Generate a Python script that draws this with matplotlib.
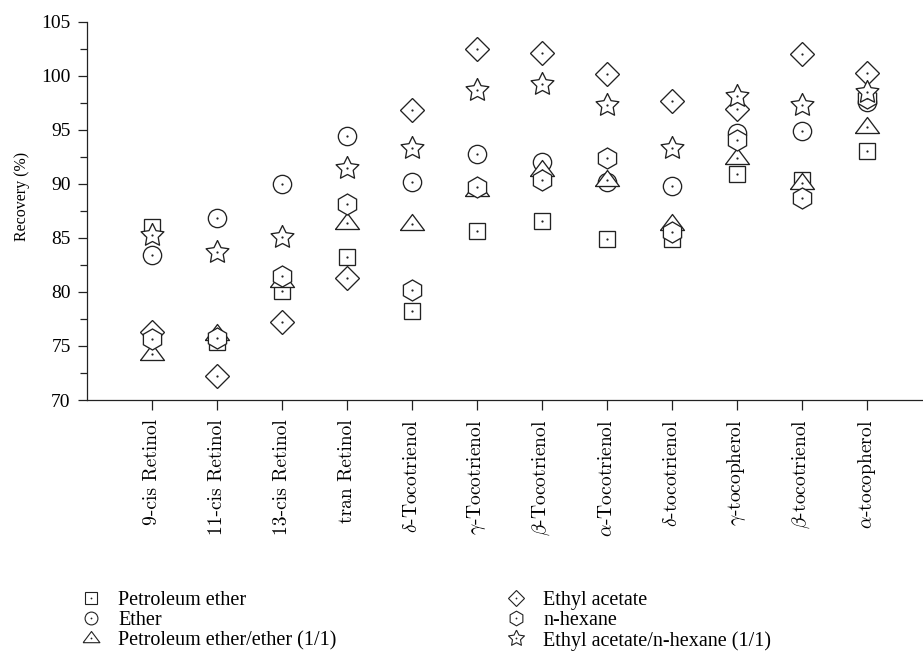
import matplotlib
matplotlib.use("Agg")
import matplotlib.pyplot as plt
from matplotlib.lines import Line2D
from matplotlib.ticker import MultipleLocator
import numpy as np

plt.rcParams['font.family'] = ['Liberation Serif', 'DejaVu Serif']
plt.rcParams['mathtext.fontset'] = 'cm'

categories = ['9-cis Retinol', '11-cis Retinol', '13-cis Retinol', 'tran Retinol',
              r'$\delta$-Tocotrienol', r'$\gamma$-Tocotrienol', r'$\beta$-Tocotrienol',
              r'$\alpha$-Tocotrienol', r'$\delta$-tocotrienol', r'$\gamma$-tocopherol',
              r'$\beta$-tocotrienol', r'$\alpha$-tocopherol']

petroleum_ether = [86.0, 75.4, 80.1, 83.2, 78.2, 85.6, 86.6, 84.9, 84.9, 90.9, 90.4, 93.0]
ether = [83.4, 86.8, 90.0, 94.4, 90.2, 92.8, 92.0, 90.2, 89.8, 94.7, 94.9, 97.6]
pe_ether = [74.3, 76.1, 81.0, 86.4, 86.3, 89.4, 91.3, 90.35, 86.3, 92.4, 90.05, 95.3]
ethyl_acetate = [76.3, 72.2, 77.2, 81.3, 96.8, 102.5, 102.1, 100.2, 97.7, 96.9, 102.0, 100.3]
n_hexane = [75.6, 75.7, 81.5, 88.1, 80.2, 89.7, 90.4, 92.4, 85.5, 94.1, 88.7, 97.9]
ea_hexane = [85.3, 83.7, 85.1, 91.5, 93.3, 98.7, 99.2, 97.3, 93.3, 98.1, 97.3, 98.5]

series_names = ['Petroleum ether', 'Ether', 'Petroleum ether/ether (1/1)',
                'Ethyl acetate', 'n-hexane', 'Ethyl acetate/n-hexane (1/1)']

# squat triangle with its origin where the centre dot sits
tri = [(-12, -6), (12, -6), (0, 10), (-12, -6)]
# five-point star, fatter than the built-in one
ang = np.pi / 2 + np.arange(10) * np.pi / 5
rad = np.where(np.arange(10) % 2 == 0, 1.0, 0.5)
star = list(zip(rad * np.cos(ang), rad * np.sin(ang)))
star.append(star[0])

pt = 0.72  # points per pixel at 100 dpi
styles = [('s', 16 * pt), ('o', 18.3 * pt), (tri, 24 * pt),
          ('D', 17 * pt), ('h', 21 * pt), (star, 24 * pt)]
data = [petroleum_ether, ether, pe_ether, ethyl_acetate, n_hexane, ea_hexane]

ink = '#222222'
fig = plt.figure(figsize=(9.23, 6.62), dpi=100)
ax = fig.add_axes([86.7 / 923, 1 - 400 / 662, 1 - 86.7 / 923, 378.3 / 662])

x = np.arange(1, len(categories) + 1)
handles = []
for i, (vals, (mk, ms)) in enumerate(zip(data, styles)):
    ax.plot(x, vals, ls='none', marker=mk, ms=ms, mfc='white', mec=ink,
            mew=0.95, zorder=3 + 2 * i, clip_on=False)
    ax.plot(x, vals, ls='none', marker='o', ms=1.6, mfc=ink, mec='none',
            zorder=4 + 2 * i, clip_on=False)
    h = Line2D([], [], ls='none', marker=mk, ms=ms * 0.7, mfc='white', mec=ink, mew=0.8)
    d = Line2D([], [], ls='none', marker='o', ms=1.3, mfc=ink, mec='none')
    handles.append((h, d))

ax.set_xlim(0, (923 - 86.7) / 65.0)
ax.set_ylim(70, 105)
ax.set_xticks(x)
ax.set_xticklabels(categories, rotation=90, fontsize=14, va='top')
for lab in ax.get_xticklabels():
    lab.set_fontfamily(['cmr10', 'Liberation Serif'])
ax.yaxis.set_major_locator(MultipleLocator(5))
ax.yaxis.set_minor_locator(MultipleLocator(2.5))
ax.tick_params(axis='y', which='major', direction='out', length=6.5, width=0.9,
               labelsize=14, pad=5, colors=ink, labelcolor='black')
ax.tick_params(axis='y', which='minor', direction='out', length=5, width=0.9, colors=ink)
ax.tick_params(axis='x', direction='out', length=7, width=0.9, pad=7, colors=ink,
               labelcolor='black')
for side in ['top', 'right']:
    ax.spines[side].set_visible(False)
for side in ['left', 'bottom']:
    ax.spines[side].set_color(ink)
    ax.spines[side].set_linewidth(0.9)

ax.set_ylabel('Recovery (%)', fontsize=11.5)
ax.yaxis.set_label_coords(-0.068, 0.537)

leg_kw = dict(loc='upper left', frameon=False, fontsize=14.5, borderpad=0,
              borderaxespad=0, handlelength=1.2, handletextpad=0.75,
              labelspacing=0.04)
fig.legend(handles[:3], series_names[:3], bbox_to_anchor=(79 / 923, 1 - 591 / 662), **leg_kw)
fig.legend(handles[3:], series_names[3:], bbox_to_anchor=(504 / 923, 1 - 591 / 662), **leg_kw)

fig.savefig('out.png', dpi=100)
